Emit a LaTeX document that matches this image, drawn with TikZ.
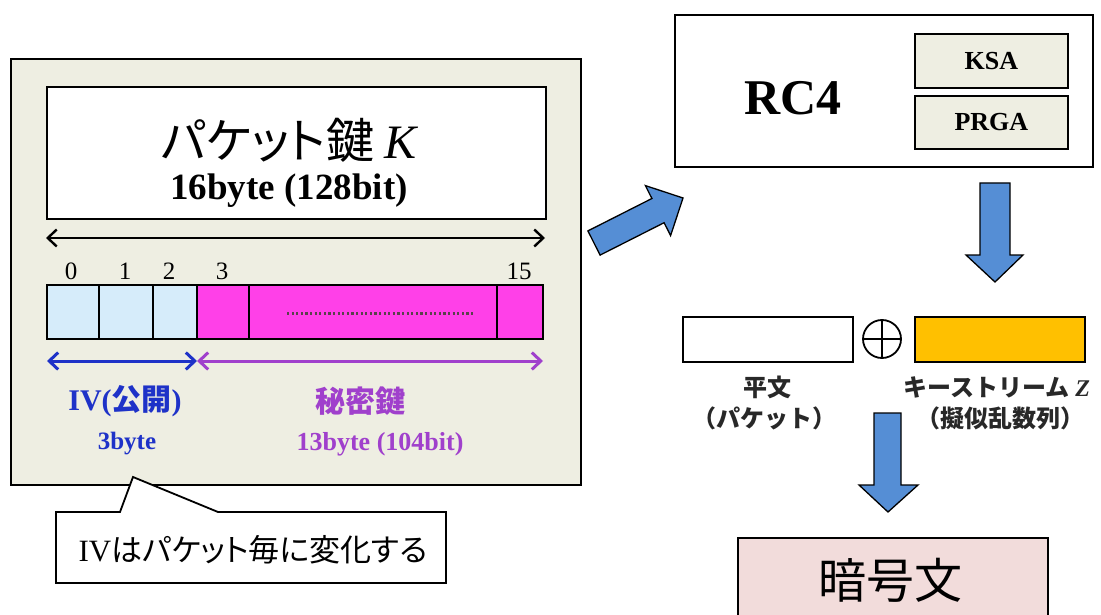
\documentclass[tikz,border=0pt]{standalone}
\usepackage{fontspec}
\setmainfont{Liberation Serif}
\newfontfamily\jp{Noto Sans CJK JP}
\newfontfamily\jpp[RawFeature=+palt]{Noto Sans CJK JP}
\usetikzlibrary{arrows.meta}
\definecolor{panelbg}{RGB}{238,238,226}
\definecolor{cellblue}{RGB}{214,236,250}
\definecolor{cellmag}{RGB}{255,64,232}
\definecolor{ivblue}{RGB}{30,50,200}
\definecolor{secpurple}{RGB}{160,64,204}
\definecolor{arrowblue}{RGB}{85,142,213}
\definecolor{ksyellow}{RGB}{255,192,0}
\definecolor{cipherbg}{RGB}{242,220,219}
\definecolor{txtgray}{RGB}{40,40,40}
\newcommand{\fsz}[1]{\fontsize{#1}{#1}\selectfont}
\begin{document}
\begin{tikzpicture}[x=1pt,y=-1pt,
  rectbox/.style={draw=black, line width=1.8pt},
  lbl/.style={inner sep=0pt, anchor=center},
  blockarrow/.style={fill=arrowblue, draw=black, line width=1.3pt, line join=miter},
  dimarrow/.style={line width=2.4pt, {Straight Barb[length=9pt,width=17pt]}-{Straight Barb[length=9pt,width=17pt]}},
  cell/.style={draw=black, line width=1.8pt}
]
\useasboundingbox (0,0) rectangle (1101,615);

% ---------- left panel ----------
\draw[rectbox, fill=panelbg] (11,59) rectangle (581,485);
\node[rectbox, fill=white, minimum width=499pt, minimum height=132pt, anchor=north west] (keybox) at (46,86) {};
\node[lbl] (keytitle) at (289,140) {\fsz{48}\jpp パケット鍵 \rmfamily\itshape K};
\node[lbl] (keysize) at (289,191) {\fsz{37}\bfseries 16byte (128bit)};

\coordinate (kl) at (46,238);
\coordinate (kr) at (545,238);
\draw[dimarrow, black] (kl) -- (kr);

% byte index labels
\node[lbl] (i0) at (71,271) {\fsz{25}0};
\node[lbl] (i1) at (125,271) {\fsz{25}1};
\node[lbl] (i2) at (169,271) {\fsz{25}2};
\node[lbl] (i3) at (222,271) {\fsz{25}3};
\node[lbl] (i15) at (519,271) {\fsz{25}15};

% cells
\draw[cell, fill=cellblue] (47,285) rectangle (99,339);
\draw[cell, fill=cellblue] (99,285) rectangle (153,339);
\draw[cell, fill=cellblue] (153,285) rectangle (197,339);
\draw[cell, fill=cellmag] (197,285) rectangle (249,339);
\draw[cell, fill=cellmag] (249,285) rectangle (497,339);
\draw[cell, fill=cellmag] (497,285) rectangle (543,339);
\draw[line width=3pt, black!75!magenta, dash pattern=on 2.2pt off 2.4pt] (287,313) -- (473,313);

\coordinate (ivl) at (47,361);
\coordinate (ivr) at (197,361);
\coordinate (skr) at (543,361);
\draw[dimarrow, ivblue, line width=3pt] (ivl) -- (ivr);
\draw[dimarrow, secpurple, line width=3pt] (ivr) -- (skr);

\node[lbl, text=ivblue] (ivlabel) at (125,401) {\fsz{30}\bfseries IV(\jp 公開\rmfamily )};
\node[lbl, text=ivblue] (ivsize) at (127,444) {\fsz{25}\bfseries 3byte};
\node[lbl, text=secpurple] (sklabel) at (360,401) {\fsz{30}\jp\bfseries 秘密鍵};
\node[lbl, text=secpurple] (sksize) at (380,444) {\fsz{26}\bfseries 13byte (104bit)};

% callout
\draw[rectbox, fill=white, line width=1.8pt, line join=miter]
  (56,512) -- (120,512) -- (133,477) -- (218,512) -- (446,512) -- (446,583) -- (56,583) -- cycle;
\node[lbl] (note) at (253,550) {\fsz{31}IV\jpp はパケット毎に変化する};

% ---------- RC4 ----------
\draw[rectbox] (675,15) rectangle (1093,167);
\node[lbl] (rc4) at (793,98) {\fsz{50}\bfseries RC4};
\node[rectbox, fill=panelbg, minimum width=153pt, minimum height=54pt, anchor=north west, inner sep=0pt] (ksa) at (914,33) {\fsz{26}\bfseries KSA};
\node[rectbox, fill=panelbg, minimum width=153pt, minimum height=53pt, anchor=north west, inner sep=0pt] (prga) at (914,95) {\fsz{26}\bfseries PRGA};

% diagonal block arrow
\draw[blockarrow] (587.9,230.9) -- (651.9,198.5) -- (645.4,185.6) -- (683,198)
  -- (670.6,235.6) -- (664.1,222.7) -- (600.1,255.1) -- cycle;

% down arrow 1
\draw[blockarrow] (980,183) -- (1010,183) -- (1010,255) -- (1023,255) -- (995,282)
  -- (966,255) -- (980,255) -- cycle;

% ---------- XOR ----------
\draw[rectbox, fill=white] (683,317) rectangle (853,362);
\node[draw=black, line width=1.8pt, circle, minimum size=38pt, inner sep=0pt] (xor) at (882,339) {};
\draw[line width=1.6pt] (xor.north) -- (xor.south) (xor.west) -- (xor.east);
\draw[rectbox, fill=ksyellow] (915,317) rectangle (1085,362);

\node[lbl, text=txtgray] (pt1) at (767,387) {\fsz{24}\jp\bfseries 平文};
\node[lbl, text=txtgray] (pt2) at (764,418) {\fsz{24}\jp\bfseries （パケット）};
\node[lbl, text=txtgray] (ks1) at (997,387) {\fsz{24}\jp\bfseries キーストリーム \rmfamily\itshape Z};
\node[lbl, text=txtgray] (ks2) at (1000,418) {\fsz{24}\jp\bfseries （擬似乱数列）};

% down arrow 2
\draw[blockarrow] (874,413) -- (901,413) -- (901,485) -- (918,485) -- (888,512)
  -- (859,485) -- (874,485) -- cycle;

% cipher text
\draw[rectbox, fill=cipherbg] (738,538) rectangle (1048,630);
\node[lbl] (cipher) at (890,580) {\fsz{48}\jp 暗号文};
\end{tikzpicture}
\end{document}
